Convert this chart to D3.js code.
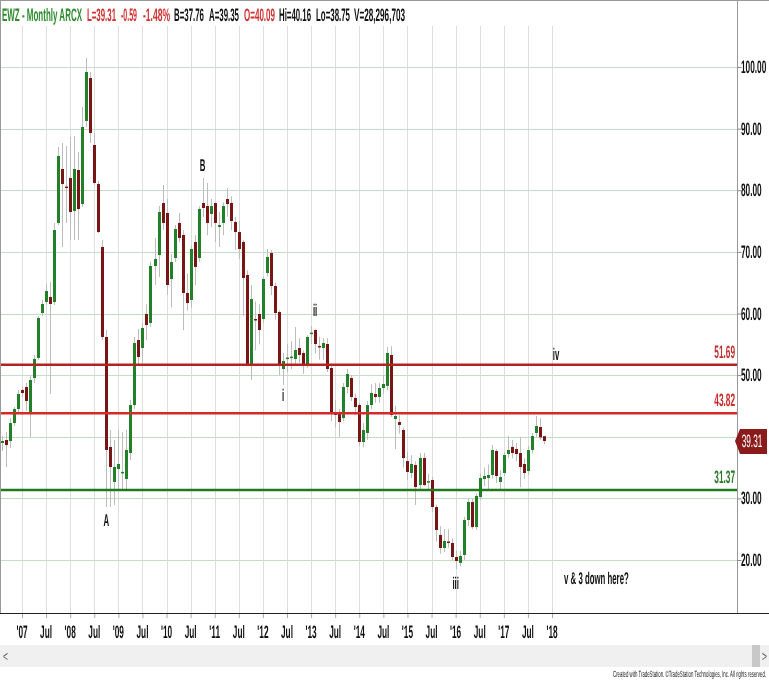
<!DOCTYPE html>
<html><head><meta charset="utf-8">
<script src="https://cdn.jsdelivr.net/npm/d3@7"></script>
<style>html,body{margin:0;padding:0;background:#fff;}svg{display:block;will-change:transform;}text{text-rendering:geometricPrecision;}</style>
</head><body>
<svg id="chart" width="769" height="681"></svg>
<script>
// ---- data: EWZ monthly bars, Aug 2006 .. Nov 2017 ----
const firstMonth = "2006-08";
const opens = [
 38.99,39.47,39.31,42.23,44.50,
 47.59,48.07,44.02,49.53,52.78,60.08,61.87,62.68,61.87,74.69,83.45,80.60,
 81.99,76.63,83.29,77.77,91.24,98.22,87.34,81.01,70.79,56.19,38.34,32.66,
 34.77,34.28,33.14,37.36,45.15,55.70,54.40,59.92,58.46,67.71,69.49,77.93,
 76.31,65.60,69.01,74.69,72.74,63.33,62.19,71.60,69.01,77.93,77.44,76.15,
 77.93,74.04,74.69,78.58,77.93,74.85,73.22,71.60,66.25,51.81,59.11,59.92,
 59.11,66.57,69.82,64.46,60.24,50.99,52.78,52.90,52.62,54.40,53.59,51.64,
 56.84,57.32,54.73,54.40,55.05,51.16,43.85,43.69,43.04,48.07,49.53,46.29,
 45.15,39.15,40.61,45.15,46.94,46.45,47.91,48.24,53.27,42.88,42.39,41.09,
 36.06,34.12,35.42,32.17,36.55,32.66,32.98,28.60,24.06,21.95,23.00,22.76,
 20.49,19.52,20.81,26.49,29.41,25.35,30.22,33.14,33.30,33.79,37.69,32.66,
 34.12,37.20,38.34,38.01,37.36,35.58,34.44,37.85,40.61,41.58,40.09];
const highs = [
 40.12,40.77,43.04,44.83,47.59,
 48.07,48.72,50.02,53.27,59.59,62.19,64.79,65.11,74.69,87.02,87.67,87.18,
 88.64,88.80,86.21,93.51,101.46,99.19,89.29,81.50,71.93,57.32,41.09,39.47,
 41.09,40.77,41.09,46.00,56.19,57.48,58.46,61.50,68.36,72.25,77.44,80.85,
 78.58,69.65,74.36,76.30,73.50,66.50,71.00,72.70,77.40,81.99,81.20,78.60,
 78.00,76.50,78.00,80.37,79.00,75.70,75.00,71.90,67.00,64.60,62.00,61.50,
 66.00,70.47,70.30,65.00,60.50,53.59,55.00,55.50,57.81,56.00,54.00,56.50,
 57.97,57.50,56.20,56.00,56.00,51.80,46.00,44.50,48.72,51.00,50.00,47.00,
 45.50,42.20,45.80,48.50,48.70,48.70,50.00,54.56,54.70,45.00,43.50,41.50,
 37.50,37.00,36.00,37.36,37.36,34.00,33.50,29.00,25.50,25.00,25.00,23.50,
 21.50,21.50,27.00,30.00,29.90,30.80,34.00,35.00,35.50,38.66,38.00,34.50,
 37.50,40.12,39.50,39.00,39.96,36.50,38.50,40.60,43.37,43.00,40.16];
const lows = [
 37.69,35.09,38.17,41.74,43.85,
 46.45,44.18,39.96,48.72,52.45,59.59,61.38,46.94,61.38,74.36,70.79,74.69,
 71.93,71.93,71.93,77.28,90.26,87.67,80.85,73.06,55.70,28.60,28.60,28.93,
 31.36,31.36,31.36,36.23,44.50,51.48,51.97,55.70,57.81,64.63,65.92,73.55,
 63.00,61.00,68.36,71.60,57.30,60.50,60.90,64.60,68.40,75.70,72.70,74.00,
 71.60,70.80,72.70,75.70,73.50,70.30,68.80,59.60,51.50,49.21,54.00,55.00,
 58.50,66.00,63.00,59.00,50.00,48.40,50.50,51.00,51.80,52.00,50.20,51.20,
 55.00,53.50,52.50,52.50,50.50,42.50,41.50,40.00,42.50,47.00,45.80,43.50,
 38.50,38.30,39.50,44.50,45.50,45.50,46.90,47.50,43.20,38.00,40.50,35.00,
 33.00,33.30,28.93,31.50,32.00,31.50,27.80,23.00,21.00,21.30,22.00,20.00,
 18.54,19.00,20.00,25.50,25.00,24.90,29.80,32.00,31.50,33.20,32.50,31.36,
 33.60,36.50,36.50,36.00,31.84,33.20,33.80,37.30,40.00,39.50,38.75];
const closes = [
 39.31,38.66,42.23,44.50,46.94,
 47.10,45.80,49.21,52.62,59.27,61.54,63.65,61.54,73.55,85.56,81.01,80.45,
 76.47,83.45,76.96,90.26,99.19,89.29,81.18,73.22,56.19,37.85,35.09,35.09,
 35.58,34.30,37.85,45.15,55.21,52.94,57.65,58.13,67.71,68.84,76.47,74.69,
 64.63,68.36,73.71,72.25,63.33,61.70,70.47,67.55,76.96,77.12,74.69,77.44,
 74.69,74.36,77.44,77.77,75.01,73.22,70.47,65.76,51.81,62.35,59.00,57.32,
 65.60,69.17,64.46,60.08,51.81,52.29,52.85,53.00,54.08,53.27,51.48,56.19,
 56.90,55.05,54.65,55.21,50.99,43.85,43.53,42.39,48.07,50.18,46.45,44.83,
 39.15,41.09,45.15,47.10,46.45,47.91,48.56,53.59,43.53,43.37,41.91,36.55,
 34.28,35.58,31.84,36.55,32.17,32.80,28.60,24.87,21.95,23.08,22.76,20.49,
 19.84,20.65,26.49,29.41,25.35,30.39,33.30,33.63,33.79,37.85,33.63,33.47,
 37.04,37.85,37.36,37.20,35.09,34.12,37.85,40.12,41.74,39.90,39.31];

const priceTicks = [20,30,40,50,60,70,80,90,100];
const timeTickLabels = ["'07","Jul","'08","Jul","'09","Jul","'10","Jul","'11","Jul","'12","Jul","'13","Jul","'14","Jul","'15","Jul","'16","Jul","'17","Jul","'18"];
const levelValues = [51.69, 43.82, 31.37];
const levelLabels = ["51.69","43.82","31.37"];
const lastPrice = 39.31;
const waveLabels = ["A","B","i","ii","iii","iv","v & 3 down here?"];
const waveMonths = ["2008-10","2010-10","2012-06","2013-02","2016-01","2018-02","2018-04"];
const wavePrices = [25.5, 83.1, 45.8, 59.6, 15.3, 52.45, 16.1];

// ---- layout ----
const W = 769, H = 681;
const plotR = 737, plotB = 613;
const svg = d3.select("#chart");
const FONT = "'Liberation Sans', Arial, sans-serif";

const parseM = d3.timeParse("%Y-%m");
const base = parseM("2007-01");
const mIdx = s => d3.timeMonth.count(base, parseM(s));
const start = mIdx(firstMonth);
const idx = opens.map((_, i) => start + i);

const x = d3.scaleLinear().domain([0, 132]).range([22, 552]);
const y = d3.scaleLinear().domain([20, 100]).range([560, 67]);

svg.append("rect").attr("width", W).attr("height", H).attr("fill", "#fff");

const defs = svg.append("defs");
defs.append("clipPath").attr("id", "plotclip")
  .append("rect").attr("x", 0).attr("y", 0).attr("width", plotR).attr("height", plotB);

// grid
const tickIdx = timeTickLabels.map((_, i) => i * 6);
const grid = svg.append("g");
grid.selectAll("line.v").data(tickIdx).join("line")
  .attr("x1", d => Math.round(x(d)) + 0.5).attr("x2", d => Math.round(x(d)) + 0.5)
  .attr("y1", 0).attr("y2", plotB)
  .attr("stroke", "#dedede").attr("stroke-width", 1);
grid.selectAll("line.h").data(priceTicks).join("line")
  .attr("x1", 0).attr("x2", plotR)
  .attr("y1", d => Math.round(y(d)) + 0.5).attr("y2", d => Math.round(y(d)) + 0.5)
  .attr("stroke", "#c5dcc5").attr("stroke-width", 1);

// candles
const cg = svg.append("g").attr("clip-path", "url(#plotclip)");
const bw = 3;
const c = cg.selectAll("g.c").data(idx).join("g");
c.append("line")
  .attr("x1", d => Math.round(x(d)) + 0.5).attr("x2", d => Math.round(x(d)) + 0.5)
  .attr("y1", (d, i) => y(highs[i])).attr("y2", (d, i) => y(lows[i]))
  .attr("stroke", "#bdbdbd").attr("stroke-width", 1);
c.append("rect")
  .attr("x", d => Math.round(x(d)) - 1)
  .attr("y", (d, i) => y(Math.max(opens[i], closes[i])))
  .attr("width", bw)
  .attr("height", (d, i) => Math.max(1.5, Math.abs(y(opens[i]) - y(closes[i]))))
  .attr("fill", (d, i) => closes[i] >= opens[i] ? "#23802a" : "#7a1515");

// level lines
const levelColors = ["#b02424", "#d42a2a", "#1f7a1f"];
const levelTextColors = ["#c03030", "#cc2a2a", "#2a7a2a"];
svg.selectAll("line.lvl").data(levelValues).join("line")
  .attr("x1", 0).attr("x2", plotR)
  .attr("y1", d => y(d)).attr("y2", d => y(d))
  .attr("stroke", (d, i) => levelColors[i]).attr("stroke-width", 2.5);

function txt(parent, xx, yy, s, o) {
  o = o || {};
  const t = parent.append("text")
    .attr("transform", `translate(${xx},${yy}) scale(${o.sx || 0.46},1)`)
    .attr("text-anchor", o.anchor || "start")
    .attr("font-family", FONT)
    .attr("font-size", o.size || 18)
    .attr("font-weight", o.weight || "bold")
    .attr("fill", o.fill || "#111")
    .text(s);
  if (o.gray) t.style("filter", "grayscale(1)");
  return t;
}
// text squeezed to an exact pixel width (measured, then scaled)
function fitTxt(parent, x0, x1, yy, s, o) {
  o = o || {};
  const t = parent.append("text")
    .attr("font-family", FONT)
    .attr("font-size", o.size || 18)
    .attr("font-weight", o.weight || "bold")
    .attr("fill", o.fill || "#111")
    .text(s);
  const w = t.node().getComputedTextLength();
  t.attr("transform", `translate(${x0},${yy}) scale(${(x1 - x0) / w},1)`);
  return t;
}

levelValues.forEach((v, i) => {
  txt(svg, 735, y(v) - 7, levelLabels[i], { anchor: "end", fill: levelTextColors[i] });
});

// wave labels
waveLabels.forEach((s, i) => {
  const xi = x(mIdx(waveMonths[i]));
  txt(svg, xi, y(wavePrices[i]), s, { anchor: i === 6 ? "start" : "middle", weight: "bold", sx: 0.46, size: 17, fill: "#111", gray: true });
});

// header band
svg.append("rect").attr("x", 1).attr("y", 1).attr("width", plotR - 1).attr("height", 25).attr("fill", "#fff");
svg.append("line").attr("x1", 0).attr("x2", W).attr("y1", 0.5).attr("y2", 0.5).attr("stroke", "#999");
const header = [
  ["EWZ - Monthly  ARCX", 2, 82, "#2e8b2e"],
  ["L=39.31", 87, 116, "#d03030"],
  ["-0.59", 121, 137, "#d03030"],
  ["-1.48%", 143, 170, "#d03030"],
  ["B=37.76", 174, 204, "#111"],
  ["A=39.35", 209, 239, "#111"],
  ["O=40.09", 244, 275, "#d03030"],
  ["Hi=40.16", 279, 311, "#111"],
  ["Lo=38.75", 316, 350, "#111"],
  ["V=28,296,703", 354, 405, "#111"]
];
header.forEach(h => fitTxt(svg, h[1], h[2], 21, h[0], { fill: h[3] }));

// frame lines
svg.append("line").attr("x1", 0.5).attr("x2", 0.5).attr("y1", 0).attr("y2", plotB).attr("stroke", "#999");
svg.append("line").attr("x1", plotR + 0.5).attr("x2", plotR + 0.5).attr("y1", 0).attr("y2", plotB).attr("stroke", "#999");

// right axis
const yAxis = d3.axisRight(y).tickValues(priceTicks).tickSize(4).tickFormat(d3.format(".2f"));
const ya = svg.append("g").attr("transform", `translate(${plotR + 0.5},0)`).call(yAxis);
ya.select(".domain").remove();
ya.selectAll(".tick line").attr("stroke", "#888");
ya.selectAll(".tick text").remove();
const ly = y(lastPrice);
priceTicks.forEach(p => {
  if (Math.abs(y(p) - ly) < 16) return; // hidden behind the last-price tag
  txt(svg, 741, y(p) + 6, d3.format(".2f")(p), { fill: "#111", gray: true });
});

// last price tag
svg.append("path")
  .attr("d", `M${plotR - 2},${ly} L${plotR + 3},${ly - 12} L767,${ly - 12} L767,${ly + 13} L${plotR + 3},${ly + 13} Z`)
  .attr("fill", "#8b1a1a");
txt(svg, 752, ly + 6, d3.format(".2f")(lastPrice), { anchor: "middle", fill: "#fff", weight: "normal" });

// bottom axis
const xAxis = d3.axisBottom(x).tickValues(tickIdx).tickSize(5).tickFormat("");
const xa = svg.append("g").attr("transform", `translate(0,${plotB})`).call(xAxis);
xa.select(".domain").remove();
xa.selectAll(".tick line").attr("stroke", "#aaa");
svg.append("line").attr("x1", 0).attr("x2", W).attr("y1", plotB + 0.5).attr("y2", plotB + 0.5).attr("stroke", "#222").attr("stroke-width", 1.2);
tickIdx.forEach((t, i) => {
  txt(svg, x(t), 638, timeTickLabels[i], { anchor: "middle", fill: "#111", gray: true });
});

// scroll bar
svg.append("rect").attr("x", 0).attr("y", 645).attr("width", W).attr("height", 22).attr("fill", "#f0f0f0");
svg.append("rect").attr("x", 752).attr("y", 645).attr("width", 8).attr("height", 22).attr("fill", "#c8c8c8");
txt(svg, 3, 661, "<", { weight: "normal", size: 14, fill: "#555", sx: 0.6 });
txt(svg, 762, 661, ">", { weight: "normal", size: 14, fill: "#555", sx: 0.6 });

// footer
fitTxt(svg, 613, 766, 677, "Created with TradeStation. \u00A9TradeStation Technologies, Inc. All rights reserved.", { size: 9, weight: "normal", fill: "#222" });
</script>
</body></html>
